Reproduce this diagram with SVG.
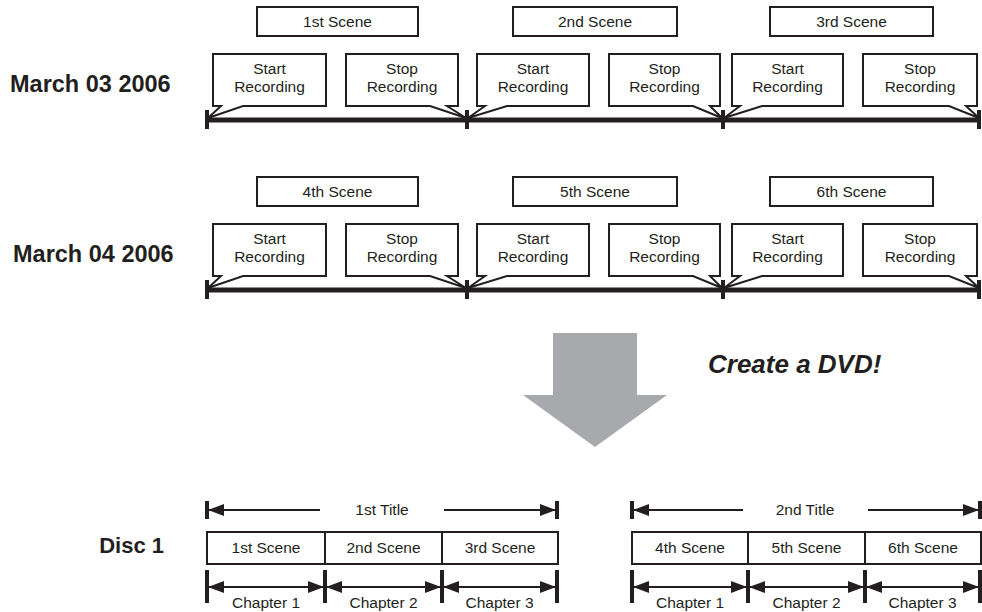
<svg xmlns="http://www.w3.org/2000/svg" width="982" height="612" viewBox="0 0 982 612">
<style>
text{font-family:"Liberation Sans",Arial,sans-serif;fill:#231f20}
.t{font-size:15.5px;text-anchor:middle}
.lbl{font-size:23.5px;font-weight:bold}
.box{fill:#fff;stroke:#231f20;stroke-width:2}
.tl{stroke:#231f20;stroke-width:5;fill:none}
.tick{stroke:#231f20;stroke-width:4;fill:none}
.arr{stroke:#231f20;stroke-width:2.2;fill:none;marker-end:url(#ah)}
.dbl{stroke:#231f20;stroke-width:2.2;fill:none;marker-end:url(#ah);marker-start:url(#ah)}
</style>
<defs>
<marker id="ah" markerUnits="userSpaceOnUse" markerWidth="16" markerHeight="12" viewBox="0 0 16 12" refX="15" refY="6" orient="auto-start-reverse">
<path d="M0,0 L16,6 L0,12 Z" fill="#231f20"/>
</marker>
</defs>

<g id="label-march03"><text class="lbl" x="10" y="92">March 03 2006</text></g>
<g id="label-march04"><text class="lbl" x="13" y="262">March 04 2006</text></g>
<g id="label-disc1"><text class="lbl" x="164" y="553" style="font-size:22px;text-anchor:end">Disc 1</text></g>

<g id="connectors">
<line class="tl" x1="207" y1="120" x2="980" y2="120"/>
<line class="tick" x1="207" y1="110" x2="207" y2="129"/>
<line class="tick" x1="467" y1="110" x2="467" y2="129"/>
<line class="tick" x1="723" y1="110" x2="723" y2="129"/>
<line class="tick" x1="979" y1="110" x2="979" y2="129"/>
<line class="tl" x1="207" y1="290" x2="980" y2="290"/>
<line class="tick" x1="207" y1="280" x2="207" y2="299"/>
<line class="tick" x1="467" y1="280" x2="467" y2="299"/>
<line class="tick" x1="723" y1="280" x2="723" y2="299"/>
<line class="tick" x1="979" y1="280" x2="979" y2="299"/>
<!-- title arrows -->
<line class="tick" x1="207" y1="501" x2="207" y2="519"/>
<line class="tick" x1="557" y1="501" x2="557" y2="519"/>
<line class="arr" x1="320" y1="510" x2="209" y2="510"/>
<line class="arr" x1="444" y1="510" x2="555" y2="510"/>
<line class="tick" x1="632" y1="501" x2="632" y2="519"/>
<line class="tick" x1="980" y1="501" x2="980" y2="519"/>
<line class="arr" x1="743" y1="510" x2="634" y2="510"/>
<line class="arr" x1="868" y1="510" x2="978" y2="510"/>
<!-- chapter arrows -->
<line class="tick" x1="207" y1="570" x2="207" y2="603"/>
<line class="tick" x1="325" y1="570" x2="325" y2="603"/>
<line class="tick" x1="442" y1="570" x2="442" y2="603"/>
<line class="tick" x1="557" y1="570" x2="557" y2="603"/>
<line class="dbl" x1="209" y1="587" x2="323" y2="587"/>
<line class="dbl" x1="327" y1="587" x2="440" y2="587"/>
<line class="dbl" x1="444" y1="587" x2="555" y2="587"/>
<line class="tick" x1="632" y1="570" x2="632" y2="603"/>
<line class="tick" x1="748" y1="570" x2="748" y2="603"/>
<line class="tick" x1="865" y1="570" x2="865" y2="603"/>
<line class="tick" x1="980" y1="570" x2="980" y2="603"/>
<line class="dbl" x1="634" y1="587" x2="746" y2="587"/>
<line class="dbl" x1="750" y1="587" x2="863" y2="587"/>
<line class="dbl" x1="867" y1="587" x2="978" y2="587"/>
</g>

<!-- Row 1 -->
<g id="scene1"><rect class="box" x="257" y="7" width="161" height="29"/><text class="t" x="337.5" y="27">1st Scene</text></g>
<g id="scene2"><rect class="box" x="513" y="7" width="164" height="29"/><text class="t" x="595" y="27">2nd Scene</text></g>
<g id="scene3"><rect class="box" x="770" y="7" width="163" height="29"/><text class="t" x="851.5" y="27">3rd Scene</text></g>

<g id="start1"><path class="box" d="M213,54 H326 V106 H243 L208,118 L221,106 H213 Z"/><text class="t" x="269.5" y="74">Start</text><text class="t" x="269.5" y="92">Recording</text></g>
<g id="stop1"><path class="box" d="M346,54 H458 V106 H447 L466,118 L430,106 H346 Z"/><text class="t" x="402" y="74">Stop</text><text class="t" x="402" y="92">Recording</text></g>
<g id="start2"><path class="box" d="M477,54 H589 V106 H507 L468,118 L485,106 H477 Z"/><text class="t" x="533" y="74">Start</text><text class="t" x="533" y="92">Recording</text></g>
<g id="stop2"><path class="box" d="M609,54 H720 V106 H710 L722,118 L693,106 H609 Z"/><text class="t" x="664.5" y="74">Stop</text><text class="t" x="664.5" y="92">Recording</text></g>
<g id="start3"><path class="box" d="M732,54 H843 V106 H762 L724,118 L740,106 H732 Z"/><text class="t" x="787.5" y="74">Start</text><text class="t" x="787.5" y="92">Recording</text></g>
<g id="stop3"><path class="box" d="M863,54 H977 V106 H966 L979,118 L949,106 H863 Z"/><text class="t" x="920" y="74">Stop</text><text class="t" x="920" y="92">Recording</text></g>

<!-- Row 2 -->
<g id="scene4"><rect class="box" x="257" y="177" width="161" height="29"/><text class="t" x="337.5" y="197">4th Scene</text></g>
<g id="scene5"><rect class="box" x="513" y="177" width="164" height="29"/><text class="t" x="595" y="197">5th Scene</text></g>
<g id="scene6"><rect class="box" x="770" y="177" width="163" height="29"/><text class="t" x="851.5" y="197">6th Scene</text></g>

<g id="start4"><path class="box" d="M213,224 H326 V276 H243 L208,288 L221,276 H213 Z"/><text class="t" x="269.5" y="244">Start</text><text class="t" x="269.5" y="262">Recording</text></g>
<g id="stop4"><path class="box" d="M346,224 H458 V276 H447 L466,288 L430,276 H346 Z"/><text class="t" x="402" y="244">Stop</text><text class="t" x="402" y="262">Recording</text></g>
<g id="start5"><path class="box" d="M477,224 H589 V276 H507 L468,288 L485,276 H477 Z"/><text class="t" x="533" y="244">Start</text><text class="t" x="533" y="262">Recording</text></g>
<g id="stop5"><path class="box" d="M609,224 H720 V276 H710 L722,288 L693,276 H609 Z"/><text class="t" x="664.5" y="244">Stop</text><text class="t" x="664.5" y="262">Recording</text></g>
<g id="start6"><path class="box" d="M732,224 H843 V276 H762 L724,288 L740,276 H732 Z"/><text class="t" x="787.5" y="244">Start</text><text class="t" x="787.5" y="262">Recording</text></g>
<g id="stop6"><path class="box" d="M863,224 H977 V276 H966 L979,288 L949,276 H863 Z"/><text class="t" x="920" y="244">Stop</text><text class="t" x="920" y="262">Recording</text></g>

<!-- Big arrow -->
<g id="big-arrow"><polygon points="553,333 637,333 637,395 667,395 595,447 523,395 553,395" fill="#a7a9ac"/></g>
<g id="create-dvd"><text x="708" y="373" style="font-size:26px;font-weight:bold;font-style:italic">Create a DVD!</text></g>

<!-- Disc titles -->
<g id="title1"><text class="t" x="382" y="515">1st Title</text></g>
<g id="title2"><text class="t" x="805" y="515">2nd Title</text></g>

<g id="disc-scenes-1">
<rect class="box" x="207" y="532" width="351" height="32"/>
<line stroke="#231f20" stroke-width="2" x1="325" y1="532" x2="325" y2="564"/>
<line stroke="#231f20" stroke-width="2" x1="442" y1="532" x2="442" y2="564"/>
<text class="t" x="266" y="553">1st Scene</text>
<text class="t" x="383.5" y="553">2nd Scene</text>
<text class="t" x="500" y="553">3rd Scene</text>
</g>
<g id="disc-scenes-2">
<rect class="box" x="632" y="532" width="349" height="32"/>
<line stroke="#231f20" stroke-width="2" x1="748" y1="532" x2="748" y2="564"/>
<line stroke="#231f20" stroke-width="2" x1="865" y1="532" x2="865" y2="564"/>
<text class="t" x="690" y="553">4th Scene</text>
<text class="t" x="806.5" y="553">5th Scene</text>
<text class="t" x="923" y="553">6th Scene</text>
</g>

<g id="chapters-1">
<text class="t" x="266" y="608">Chapter 1</text>
<text class="t" x="383.5" y="608">Chapter 2</text>
<text class="t" x="499.5" y="608">Chapter 3</text>
</g>
<g id="chapters-2">
<text class="t" x="690" y="608">Chapter 1</text>
<text class="t" x="806.5" y="608">Chapter 2</text>
<text class="t" x="922.5" y="608">Chapter 3</text>
</g>
</svg>
